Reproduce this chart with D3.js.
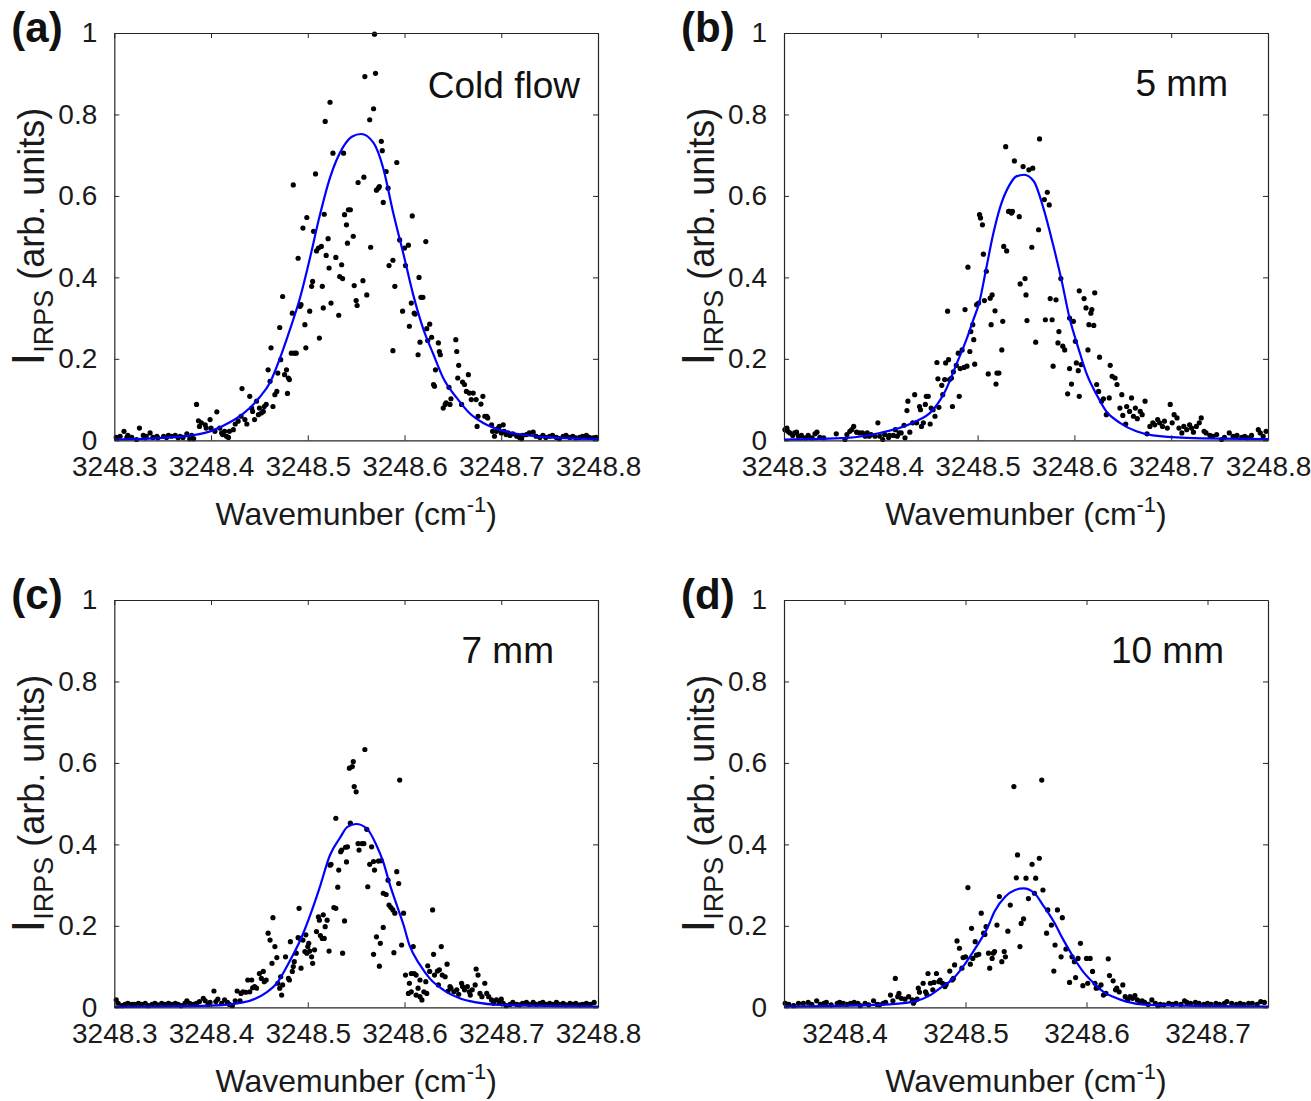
<!DOCTYPE html>
<html>
<head>
<meta charset="utf-8">
<script src="https://cdn.jsdelivr.net/npm/d3@7"></script>
<style>
  html, body { margin: 0; padding: 0; background: #fff; }
  svg { display: block; }
</style>
</head>
<body>
<svg id="fig" width="1311" height="1101"></svg>
<script>
// ---- data -------------------------------------------------------------
const yTicks = [0, 0.2, 0.4, 0.6, 0.8, 1];
const yDomain = [0, 1];
const xTicksFull = [3248.3, 3248.4, 3248.5, 3248.6, 3248.7, 3248.8];
const xTicksNarrow = [3248.4, 3248.5, 3248.6, 3248.7];
const xDomainFull = [3248.3, 3248.8];
const xDomainNarrow = [3248.35, 3248.75];
const panelTags = ["(a)", "(b)", "(c)", "(d)"];
const conditions = ["Cold flow", "5 mm", "7 mm", "10 mm"];

// measured IRPS intensity, [wavenumber, intensity]
const coldFlowPts = [
[3248.302,0.007],[3248.306,0.010],[3248.310,0.022],[3248.313,0.007],[3248.314,0.012],[3248.318,0.007],[3248.323,0.002],[3248.326,0.030],[3248.330,0.012],[3248.332,0.006],[3248.333,0.010],[3248.337,0.018],[3248.340,0.007],[3248.344,0.010],[3248.345,0.006],[3248.351,0.010],[3248.354,0.007],[3248.356,0.012],[3248.359,0.010],[3248.363,0.012],[3248.366,0.006],[3248.368,0.010],[3248.371,0.007],[3248.375,0.016],[3248.378,0.004],[3248.380,0.012],[3248.382,0.004],
[3248.385,0.088],[3248.387,0.048],[3248.388,0.034],[3248.390,0.043],[3248.394,0.038],[3248.395,0.030],[3248.399,0.051],[3248.400,0.030],[3248.404,0.022],[3248.406,0.070],[3248.409,0.030],[3248.411,0.018],[3248.412,0.014],[3248.414,0.022],[3248.416,0.010],[3248.418,0.007],[3248.419,0.022],[3248.423,0.026],[3248.425,0.040],[3248.428,0.047],[3248.431,0.059],[3248.432,0.127],[3248.435,0.051],[3248.437,0.040],[3248.440,0.108],[3248.442,0.079],[3248.443,0.071],[3248.445,0.051],[3248.447,0.096],[3248.449,0.063],[3248.450,0.079],[3248.452,0.067],[3248.454,0.071],[3248.455,0.083],[3248.457,0.088],[3248.459,0.173],[3248.461,0.145],[3248.462,0.227],[3248.464,0.083],[3248.466,0.112],[3248.468,0.120],[3248.469,0.165],[3248.471,0.277],[3248.472,0.198],[3248.474,0.353],[3248.476,0.161],[3248.478,0.173],[3248.479,0.115],[3248.480,0.153],[3248.481,0.149],[3248.483,0.214],[3248.484,0.312],[3248.485,0.627],[3248.486,0.214],[3248.488,0.214],[3248.490,0.447],[3248.492,0.329],[3248.493,0.333],[3248.495,0.521],[3248.497,0.284],[3248.498,0.227],[3248.499,0.547],[3248.502,0.317],[3248.504,0.378],[3248.505,0.390],[3248.506,0.513],[3248.508,0.654],[3248.509,0.465],[3248.511,0.472],[3248.512,0.251],[3248.514,0.476],[3248.515,0.378],[3248.516,0.325],[3248.517,0.555],[3248.518,0.783],[3248.519,0.454],[3248.521,0.495],[3248.522,0.423],[3248.523,0.830],[3248.524,0.337],[3248.526,0.705],[3248.529,0.449],[3248.532,0.307],[3248.533,0.402],[3248.535,0.431],[3248.536,0.397],[3248.537,0.705],[3248.538,0.554],[3248.540,0.529],[3248.541,0.484],[3248.542,0.566],[3248.544,0.566],[3248.547,0.501],[3248.548,0.380],[3248.550,0.343],[3248.551,0.331],[3248.552,0.633],
[3248.557,0.392],[3248.558,0.646],[3248.559,0.893],[3248.561,0.357],[3248.565,0.474],[3248.564,0.787],[3248.568,0.814],[3248.569,0.997],[3248.570,0.901],[3248.571,0.614],[3248.573,0.619],[3248.574,0.623],[3248.576,0.734],[3248.577,0.711],[3248.578,0.584],[3248.581,0.660],[3248.583,0.619],[3248.584,0.429],[3248.588,0.220],[3248.588,0.442],[3248.590,0.378],[3248.592,0.682],[3248.595,0.492],[3248.598,0.317],[3248.600,0.472],[3248.601,0.429],[3248.604,0.479],[3248.605,0.280],[3248.607,0.337],[3248.608,0.551],[3248.610,0.312],[3248.611,0.310],[3248.614,0.210],[3248.615,0.400],[3248.616,0.241],[3248.617,0.351],[3248.619,0.351],[3248.622,0.488],[3248.623,0.274],[3248.624,0.245],[3248.626,0.285],[3248.628,0.253],[3248.630,0.137],[3248.631,0.133],[3248.632,0.173],[3248.635,0.239],[3248.636,0.218],[3248.637,0.210],[3248.640,0.079],[3248.642,0.088],[3248.643,0.092],[3248.646,0.130],[3248.647,0.088],[3248.648,0.102],[3248.653,0.247],[3248.654,0.218],[3248.655,0.153],[3248.656,0.184],[3248.659,0.088],[3248.660,0.143],[3248.662,0.137],[3248.664,0.120],[3248.666,0.161],[3248.667,0.116],[3248.669,0.100],[3248.671,0.116],[3248.674,0.100],[3248.675,0.034],[3248.676,0.059],[3248.679,0.089],[3248.681,0.108],[3248.683,0.059],[3248.685,0.059],[3248.686,0.055],[3248.690,0.038],[3248.691,0.022],[3248.693,0.010],[3248.695,0.022],[3248.697,0.030],[3248.698,0.034],[3248.700,0.018],[3248.702,0.038],[3248.703,0.022],[3248.705,0.014],[3248.707,0.018],[3248.709,0.012],[3248.712,0.016],[3248.716,0.010],[3248.719,0.007],[3248.721,0.004],[3248.722,0.012],[3248.726,0.014],[3248.729,0.018],[3248.733,0.020],[3248.736,0.010],[3248.740,0.007],[3248.743,0.012],[3248.746,0.007],[3248.750,0.010],[3248.753,0.012],[3248.757,0.007],[3248.760,0.004],[3248.764,0.010],[3248.767,0.012],[3248.771,0.007],[3248.774,0.010],[3248.777,0.006],[3248.781,0.007],[3248.784,0.010],[3248.788,0.012],[3248.791,0.007],[3248.795,0.006],[3248.798,0.007]
];

const mm5Pts = [
[3248.301,0.026],[3248.303,0.030],[3248.304,0.022],[3248.306,0.018],[3248.309,0.012],[3248.311,0.018],[3248.313,0.020],[3248.315,0.010],[3248.318,0.012],[3248.322,0.006],[3248.325,0.012],[3248.329,0.006],[3248.332,0.016],[3248.334,0.020],[3248.337,0.007],[3248.341,0.006],[3248.354,0.016],[3248.363,0.002],[3248.365,0.014],[3248.368,0.022],[3248.370,0.026],[3248.372,0.034],[3248.375,0.020],[3248.378,0.018],[3248.381,0.018],[3248.384,0.010],[3248.386,0.018],[3248.388,0.010],[3248.390,0.014],[3248.394,0.010],[3248.397,0.043],[3248.399,0.010],[3248.402,0.002],[3248.404,0.014],[3248.408,0.007],[3248.409,0.012],[3248.413,0.012],[3248.415,0.026],[3248.417,0.010],[3248.419,0.018],[3248.421,0.018],[3248.424,0.037],[3248.425,0.006],[3248.427,0.073],[3248.428,0.096],[3248.430,0.020],[3248.433,0.043],[3248.435,0.112],[3248.437,0.043],[3248.440,0.083],[3248.441,0.075],[3248.442,0.034],[3248.444,0.043],[3248.446,0.088],[3248.447,0.108],[3248.449,0.108],[3248.451,0.040],[3248.452,0.079],[3248.454,0.075],[3248.456,0.059],[3248.458,0.191],[3248.459,0.151],[3248.460,0.081],[3248.463,0.135],[3248.464,0.112],[3248.466,0.149],[3248.467,0.190],[3248.469,0.317],[3248.470,0.198],[3248.471,0.149],[3248.473,0.153],[3248.474,0.083],[3248.475,0.168],[3248.478,0.184],[3248.480,0.214],[3248.481,0.108],[3248.482,0.176],[3248.484,0.222],[3248.486,0.179],[3248.487,0.321],[3248.489,0.182],[3248.490,0.425],[3248.492,0.218],[3248.493,0.267],[3248.495,0.284],[3248.496,0.247],[3248.497,0.187],[3248.499,0.333],[3248.501,0.337],[3248.502,0.554],[3248.503,0.546],[3248.505,0.529],[3248.506,0.457],[3248.507,0.343],[3248.509,0.415],[3248.511,0.163],[3248.513,0.349],[3248.514,0.284],[3248.515,0.357],[3248.518,0.318],[3248.519,0.138],[3248.520,0.165],[3248.522,0.165],[3248.525,0.222],[3248.526,0.292],[3248.527,0.476],[3248.529,0.721],[3248.530,0.465],[3248.532,0.562],[3248.533,0.562],[3248.535,0.558],[3248.536,0.562],[3248.538,0.686],[3248.543,0.549],[3248.544,0.384],[3248.547,0.672],[3248.549,0.397],[3248.550,0.357],[3248.551,0.294],[3248.553,0.664],
[3248.556,0.474],[3248.557,0.668],[3248.560,0.241],[3248.563,0.517],[3248.564,0.740],[3248.569,0.591],[3248.570,0.296],[3248.572,0.609],[3248.574,0.578],[3248.575,0.348],[3248.577,0.296],[3248.578,0.182],[3248.581,0.345],[3248.583,0.239],[3248.584,0.267],[3248.586,0.397],[3248.588,0.231],[3248.590,0.222],[3248.593,0.114],[3248.595,0.176],[3248.595,0.300],[3248.597,0.138],[3248.599,0.292],[3248.601,0.243],[3248.602,0.190],[3248.604,0.171],[3248.605,0.367],[3248.605,0.108],[3248.607,0.186],[3248.610,0.348],[3248.612,0.325],[3248.614,0.222],[3248.615,0.284],[3248.617,0.312],[3248.618,0.321],[3248.620,0.282],[3248.621,0.362],[3248.623,0.137],[3248.625,0.120],[3248.626,0.204],[3248.628,0.096],[3248.630,0.102],[3248.633,0.063],[3248.636,0.104],[3248.637,0.184],[3248.639,0.157],[3248.642,0.153],[3248.644,0.137],[3248.647,0.079],[3248.649,0.112],[3248.650,0.061],[3248.653,0.040],[3248.654,0.083],[3248.657,0.071],[3248.659,0.104],[3248.661,0.059],[3248.663,0.079],[3248.665,0.053],[3248.668,0.071],[3248.670,0.063],[3248.673,0.096],[3248.675,0.016],[3248.678,0.034],[3248.681,0.043],[3248.683,0.038],[3248.686,0.051],[3248.688,0.043],[3248.691,0.034],[3248.693,0.047],[3248.696,0.030],[3248.699,0.088],[3248.701,0.043],[3248.703,0.063],[3248.706,0.055],[3248.708,0.030],[3248.711,0.018],[3248.713,0.034],[3248.716,0.026],[3248.719,0.038],[3248.721,0.030],[3248.723,0.020],[3248.726,0.034],[3248.729,0.043],[3248.731,0.055],[3248.734,0.022],[3248.736,0.018],[3248.740,0.012],[3248.743,0.010],[3248.747,0.014],[3248.752,0.002],[3248.755,0.007],[3248.760,0.018],[3248.764,0.010],[3248.768,0.012],[3248.773,0.007],[3248.776,0.010],[3248.779,0.006],[3248.783,0.012],[3248.790,0.026],[3248.792,0.018],[3248.795,0.010],[3248.798,0.022]
];

const mm7Pts = [
[3248.302,0.018],[3248.304,0.010],[3248.308,0.004],[3248.311,0.007],[3248.314,0.010],[3248.318,0.007],[3248.321,0.007],[3248.325,0.010],[3248.328,0.007],[3248.332,0.010],[3248.335,0.004],[3248.339,0.007],[3248.342,0.010],[3248.345,0.006],[3248.349,0.010],[3248.352,0.007],[3248.356,0.010],[3248.359,0.007],[3248.363,0.010],[3248.366,0.007],[3248.369,0.004],[3248.373,0.010],[3248.375,0.016],[3248.378,0.010],[3248.382,0.007],[3248.385,0.010],[3248.388,0.014],[3248.392,0.022],[3248.394,0.016],[3248.397,0.007],[3248.399,0.012],[3248.403,0.040],[3248.405,0.014],[3248.407,0.020],[3248.411,0.010],[3248.414,0.018],[3248.417,0.012],[3248.419,0.007],[3248.422,0.004],[3248.425,0.016],[3248.427,0.040],[3248.430,0.016],[3248.431,0.034],[3248.433,0.038],[3248.436,0.037],[3248.438,0.067],[3248.440,0.038],[3248.442,0.067],[3248.443,0.048],[3248.445,0.051],[3248.447,0.047],[3248.450,0.083],[3248.452,0.071],[3248.454,0.088],[3248.455,0.063],[3248.457,0.067],[3248.459,0.182],[3248.461,0.165],[3248.463,0.108],[3248.464,0.220],[3248.466,0.149],[3248.468,0.122],[3248.469,0.059],[3248.471,0.047],[3248.472,0.075],[3248.473,0.030],[3248.474,0.055],[3248.477,0.124],[3248.480,0.071],[3248.481,0.067],[3248.482,0.161],[3248.484,0.088],[3248.485,0.100],[3248.486,0.112],[3248.488,0.133],[3248.490,0.171],[3248.491,0.243],[3248.492,0.169],[3248.493,0.096],[3248.495,0.165],[3248.497,0.137],[3248.498,0.178],[3248.499,0.133],[3248.500,0.149],[3248.501,0.157],[3248.502,0.138],[3248.504,0.124],[3248.505,0.108],[3248.507,0.141],[3248.509,0.186],[3248.511,0.222],[3248.512,0.214],[3248.513,0.176],[3248.515,0.169],[3248.516,0.227],[3248.517,0.169],[3248.518,0.198],[3248.520,0.214],[3248.522,0.138],[3248.523,0.349],[3248.524,0.351],[3248.527,0.245],[3248.529,0.243],[3248.529,0.464],[3248.531,0.295],[3248.532,0.337],[3248.534,0.382],[3248.535,0.386],[3248.536,0.133],[3248.538,0.212],[3248.539,0.393],[3248.540,0.357],[3248.541,0.394],[3248.543,0.587],[3248.544,0.452],[3248.546,0.591],[3248.547,0.603],[3248.548,0.542],[3248.550,0.529],[3248.552,0.402],[3248.553,0.386],
[3248.556,0.402],[3248.558,0.402],[3248.559,0.633],[3248.561,0.437],[3248.562,0.296],[3248.564,0.351],[3248.566,0.394],[3248.568,0.358],[3248.568,0.130],[3248.569,0.337],[3248.571,0.173],[3248.573,0.359],[3248.574,0.101],[3248.575,0.157],[3248.576,0.360],[3248.578,0.280],[3248.578,0.196],[3248.581,0.277],[3248.583,0.312],[3248.584,0.251],[3248.586,0.245],[3248.588,0.239],[3248.589,0.134],[3248.590,0.231],[3248.592,0.333],[3248.594,0.304],[3248.595,0.558],[3248.597,0.153],[3248.599,0.231],[3248.601,0.079],[3248.604,0.034],[3248.605,0.059],[3248.607,0.083],[3248.607,0.038],[3248.609,0.149],[3248.610,0.083],[3248.612,0.079],[3248.612,0.030],[3248.614,0.047],[3248.616,0.067],[3248.616,0.026],[3248.618,0.018],[3248.620,0.038],[3248.622,0.063],[3248.623,0.034],[3248.624,0.102],[3248.626,0.088],[3248.629,0.239],[3248.630,0.130],[3248.631,0.079],[3248.634,0.089],[3248.635,0.055],[3248.636,0.092],[3248.638,0.149],[3248.639,0.079],[3248.642,0.075],[3248.644,0.106],[3248.645,0.040],[3248.647,0.051],[3248.648,0.047],[3248.651,0.038],[3248.654,0.043],[3248.656,0.032],[3248.659,0.059],[3248.660,0.051],[3248.662,0.043],[3248.665,0.051],[3248.667,0.038],[3248.668,0.030],[3248.670,0.043],[3248.673,0.055],[3248.674,0.094],[3248.676,0.079],[3248.678,0.034],[3248.680,0.026],[3248.683,0.059],[3248.685,0.034],[3248.687,0.026],[3248.690,0.018],[3248.692,0.010],[3248.695,0.018],[3248.698,0.010],[3248.700,0.020],[3248.702,0.010],[3248.705,0.004],[3248.709,0.007],[3248.712,0.012],[3248.716,0.007],[3248.719,0.006],[3248.722,0.010],[3248.726,0.012],[3248.729,0.007],[3248.733,0.012],[3248.736,0.007],[3248.740,0.010],[3248.743,0.012],[3248.746,0.007],[3248.750,0.010],[3248.753,0.007],[3248.757,0.012],[3248.760,0.007],[3248.764,0.010],[3248.767,0.006],[3248.771,0.010],[3248.774,0.007],[3248.777,0.010],[3248.781,0.006],[3248.784,0.007],[3248.788,0.010],[3248.792,0.007],[3248.796,0.012]
];

const mm10Pts = [
[3248.351,0.010],[3248.354,0.007],[3248.358,0.004],[3248.362,0.010],[3248.366,0.010],[3248.370,0.012],[3248.373,0.007],[3248.377,0.016],[3248.380,0.007],[3248.383,0.010],[3248.385,0.012],[3248.389,0.006],[3248.394,0.010],[3248.396,0.012],[3248.399,0.010],[3248.402,0.007],[3248.405,0.010],[3248.408,0.012],[3248.411,0.010],[3248.413,0.004],[3248.417,0.010],[3248.420,0.006],[3248.424,0.016],[3248.427,0.007],[3248.429,0.006],[3248.432,0.010],[3248.434,0.012],[3248.438,0.030],[3248.440,0.016],[3248.442,0.071],[3248.444,0.026],[3248.445,0.034],[3248.447,0.022],[3248.450,0.020],[3248.453,0.026],[3248.456,0.018],[3248.457,0.010],[3248.458,0.016],[3248.460,0.020],[3248.461,0.047],[3248.462,0.037],[3248.465,0.059],[3248.467,0.038],[3248.468,0.032],[3248.469,0.083],[3248.471,0.059],[3248.473,0.043],[3248.474,0.061],[3248.476,0.083],[3248.478,0.063],[3248.479,0.067],[3248.481,0.059],[3248.483,0.051],[3248.484,0.056],[3248.487,0.089],[3248.489,0.067],[3248.490,0.071],[3248.491,0.104],[3248.493,0.163],[3248.495,0.145],[3248.497,0.096],[3248.498,0.122],[3248.500,0.124],[3248.502,0.294],[3248.504,0.106],[3248.505,0.194],[3248.506,0.120],[3248.508,0.161],[3248.509,0.128],[3248.511,0.130],[3248.513,0.231],[3248.515,0.182],[3248.516,0.179],[3248.517,0.198],[3248.519,0.133],[3248.520,0.096],[3248.522,0.120],[3248.523,0.133],[3248.524,0.137],[3248.526,0.202],[3248.528,0.272],[3248.530,0.112],[3248.532,0.137],[3248.533,0.124],[3248.535,0.187],[3248.537,0.251],[3248.540,0.542],[3248.542,0.318],[3248.543,0.374],[3248.545,0.149],[3248.546,0.206],[3248.548,0.217],[3248.550,0.317],[3248.552,0.267],
[3248.555,0.351],[3248.557,0.280],[3248.558,0.317],[3248.561,0.366],[3248.563,0.558],[3248.564,0.288],[3248.567,0.182],[3248.568,0.239],[3248.571,0.202],[3248.573,0.089],[3248.574,0.153],[3248.576,0.239],[3248.579,0.124],[3248.580,0.220],[3248.583,0.143],[3248.586,0.061],[3248.588,0.124],[3248.590,0.112],[3248.591,0.073],[3248.593,0.120],[3248.595,0.157],[3248.597,0.053],[3248.600,0.120],[3248.601,0.059],[3248.603,0.120],[3248.605,0.088],[3248.607,0.059],[3248.608,0.047],[3248.610,0.048],[3248.612,0.055],[3248.614,0.030],[3248.616,0.034],[3248.618,0.119],[3248.619,0.078],[3248.622,0.065],[3248.624,0.043],[3248.625,0.047],[3248.627,0.038],[3248.630,0.055],[3248.632,0.026],[3248.634,0.018],[3248.636,0.026],[3248.638,0.022],[3248.640,0.029],[3248.642,0.018],[3248.644,0.014],[3248.646,0.016],[3248.648,0.012],[3248.651,0.007],[3248.654,0.018],[3248.657,0.010],[3248.659,0.004],[3248.661,0.007],[3248.664,0.006],[3248.668,0.010],[3248.671,0.007],[3248.674,0.010],[3248.678,0.007],[3248.681,0.016],[3248.683,0.012],[3248.686,0.010],[3248.690,0.012],[3248.693,0.010],[3248.697,0.007],[3248.700,0.010],[3248.703,0.007],[3248.707,0.010],[3248.710,0.007],[3248.714,0.010],[3248.716,0.014],[3248.720,0.010],[3248.724,0.007],[3248.727,0.010],[3248.730,0.007],[3248.734,0.010],[3248.737,0.010],[3248.741,0.007],[3248.744,0.014],[3248.747,0.012]
];

// fitted line profiles, [wavenumber, intensity]
const coldFlowFit = [
[3248.300,0.002],[3248.350,0.006],[3248.380,0.012],[3248.399,0.022],[3248.420,0.045],[3248.433,0.065],[3248.450,0.105],[3248.461,0.142],[3248.471,0.200],[3248.481,0.268],[3248.492,0.350],[3248.502,0.445],[3248.512,0.548],[3248.523,0.645],[3248.536,0.718],[3248.546,0.746],[3248.555,0.752],[3248.568,0.730],[3248.578,0.668],[3248.588,0.562],[3248.599,0.456],[3248.609,0.357],[3248.619,0.276],[3248.630,0.210],[3248.640,0.153],[3248.654,0.104],[3248.667,0.067],[3248.681,0.043],[3248.698,0.026],[3248.716,0.016],[3248.750,0.007],[3248.800,0.003]
];
const mm5Fit = [
[3248.300,0.002],[3248.365,0.006],[3248.399,0.018],[3248.433,0.043],[3248.454,0.075],[3248.468,0.128],[3248.478,0.186],[3248.489,0.251],[3248.495,0.292],[3248.502,0.341],[3248.509,0.423],[3248.516,0.505],[3248.523,0.570],[3248.533,0.627],[3248.540,0.648],[3248.548,0.652],[3248.558,0.636],[3248.568,0.570],[3248.578,0.480],[3248.587,0.390],[3248.595,0.300],[3248.604,0.227],[3248.613,0.161],[3248.623,0.112],[3248.633,0.071],[3248.647,0.043],[3248.664,0.022],[3248.681,0.012],[3248.716,0.006],[3248.800,0.003]
];
const mm7Fit = [
[3248.300,0.001],[3248.399,0.004],[3248.433,0.012],[3248.457,0.036],[3248.468,0.059],[3248.481,0.112],[3248.493,0.169],[3248.505,0.243],[3248.512,0.292],[3248.523,0.374],[3248.533,0.415],[3248.541,0.443],[3248.550,0.450],[3248.561,0.439],[3248.571,0.398],[3248.578,0.357],[3248.585,0.300],[3248.592,0.251],[3248.599,0.202],[3248.605,0.153],[3248.616,0.104],[3248.626,0.071],[3248.640,0.043],[3248.657,0.022],[3248.674,0.012],[3248.698,0.006],[3248.800,0.002]
];
const mm10Fit = [
[3248.350,0.002],[3248.429,0.006],[3248.457,0.014],[3248.471,0.030],[3248.479,0.047],[3248.490,0.071],[3248.498,0.100],[3248.509,0.149],[3248.518,0.194],[3248.524,0.235],[3248.533,0.272],[3248.541,0.288],[3248.548,0.292],[3248.557,0.280],[3248.564,0.251],[3248.573,0.210],[3248.581,0.165],[3248.589,0.124],[3248.597,0.088],[3248.606,0.059],[3248.614,0.038],[3248.622,0.026],[3248.633,0.014],[3248.650,0.006],[3248.750,0.002]
];

// ---- layout -----------------------------------------------------------
const FONT = "'Liberation Sans', Arial, Helvetica, sans-serif";
const INK = "#262626";
const panels = [
  { box: [114.3, 33, 483.7, 407.3], xDomain: xDomainFull,   xTicks: xTicksFull,   pts: coldFlowPts, fit: coldFlowFit, tag: panelTags[0], note: conditions[0], noteR: 18, noteB: 64.5 },
  { box: [784,   33, 484,   407.3], xDomain: xDomainFull,   xTicks: xTicksFull,   pts: mm5Pts,      fit: mm5Fit,      tag: panelTags[1], note: conditions[1], noteR: 40, noteB: 63.3 },
  { box: [114.3,600, 483.7, 407.3], xDomain: xDomainFull,   xTicks: xTicksFull,   pts: mm7Pts,      fit: mm7Fit,      tag: panelTags[2], note: conditions[2], noteR: 44, noteB: 63.3 },
  { box: [784,  600, 484,   407.3], xDomain: xDomainNarrow, xTicks: xTicksNarrow, pts: mm10Pts,     fit: mm10Fit,     tag: panelTags[3], note: conditions[3], noteR: 44, noteB: 63.3 }
];

const svg = d3.select("#fig");
svg.append("rect").attr("width", 1311).attr("height", 1101).attr("fill", "#fff");

const fmtX = d3.format(".1f");
const fmtY = d3.format("~g");

function styleAxis(sel) {
  sel.select(".domain").attr("stroke", INK).attr("stroke-width", 1.2);
  sel.selectAll(".tick line").attr("stroke", INK).attr("stroke-width", 1);
  sel.selectAll(".tick text").attr("fill", "#1a1a1a").attr("font-size", 28).attr("font-family", FONT);
}

panels.forEach(p => {
  const [left, top, w, h] = p.box;
  const g = svg.append("g").attr("transform", `translate(${left},${top})`);
  const x = d3.scaleLinear().domain(p.xDomain).range([0, w]);
  const y = d3.scaleLinear().domain(yDomain).range([h, 0]);

  // data points
  g.append("g").selectAll("circle").data(p.pts).join("circle")
    .attr("cx", d => x(d[0])).attr("cy", d => y(d[1]))
    .attr("r", 2.6).attr("fill", "#000");

  // fitted profile
  const line = d3.line().x(d => x(d[0])).y(d => y(d[1])).curve(d3.curveMonotoneX);
  g.append("path").datum(p.fit).attr("d", line)
    .attr("fill", "none").attr("stroke", "#0000ff").attr("stroke-width", 2.2);

  // box axes with inward ticks
  g.append("g").attr("transform", `translate(0,${h})`)
    .call(d3.axisBottom(x).tickValues(p.xTicks).tickFormat(fmtX).tickSizeInner(-5).tickSizeOuter(0).tickPadding(16))
    .call(styleAxis);
  g.append("g")
    .call(d3.axisTop(x).tickValues(p.xTicks).tickFormat("").tickSizeInner(-5).tickSizeOuter(0))
    .call(styleAxis);
  g.append("g")
    .call(d3.axisLeft(y).tickValues(yTicks).tickFormat(fmtY).tickSizeInner(-5).tickSizeOuter(0).tickPadding(17))
    .call(styleAxis);
  g.append("g").attr("transform", `translate(${w},0)`)
    .call(d3.axisRight(y).tickValues(yTicks).tickFormat("").tickSizeInner(-5).tickSizeOuter(0))
    .call(styleAxis);

  // condition label
  g.append("text").attr("x", w - p.noteR).attr("y", p.noteB)
    .attr("text-anchor", "end").attr("font-family", FONT).attr("font-size", 37)
    .attr("fill", "#111").text(p.note);

  // x axis title
  const xt = g.append("text").attr("x", w / 2).attr("y", h + 85)
    .attr("text-anchor", "middle").attr("font-family", FONT).attr("font-size", 32).attr("fill", "#1a1a1a");
  xt.append("tspan").text("Wavemunber (cm");
  xt.append("tspan").attr("font-size", 22).attr("dy", -13).text("-1");
  xt.append("tspan").attr("dy", 13).text(")");

  // y axis title (rotated; baseline sits 70px left of the plot frame)
  const yt = g.append("text").attr("transform", `translate(-70,${h / 2}) rotate(-90)`)
    .attr("text-anchor", "middle").attr("font-family", FONT).attr("font-size", 36).attr("fill", "#1a1a1a");
  yt.append("tspan").attr("font-size", 46).text("I");
  yt.append("tspan").attr("font-size", 27).attr("dy", 9).text("IRPS");
  yt.append("tspan").attr("dy", -9).text(" (arb. units)");

  // panel tag
  g.append("text").attr("x", -103).attr("y", 9)
    .attr("font-family", FONT).attr("font-weight", "bold").attr("font-size", 42)
    .attr("fill", "#111").text(p.tag);
});
</script>
</body>
</html>
